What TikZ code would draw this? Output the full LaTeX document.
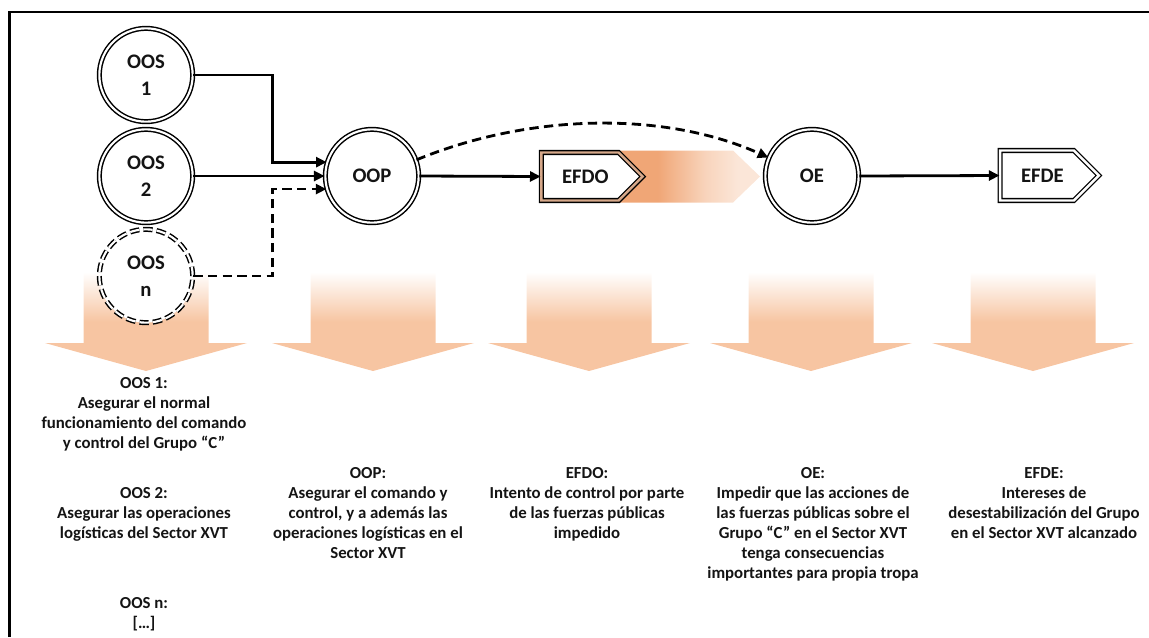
\documentclass[tikz,border=0pt]{standalone}
\usepackage{fontspec}
\setmainfont{Carlito}
\usetikzlibrary{arrows.meta,shapes.symbols}

\definecolor{peach}{RGB}{247,197,162}
\definecolor{efdoA}{RGB}{240,166,118}
\definecolor{efdoB}{RGB}{248,212,188}
\definecolor{efdoC}{RGB}{251,230,216}
\definecolor{ink}{RGB}{20,20,20}
\definecolor{tanline}{RGB}{214,168,138}

% downward block arrows: solid below, fading to white at the top
\pgfdeclareverticalshading{downfade}{100bp}{color(0bp)=(peach); color(50bp)=(peach); color(75bp)=(white); color(100bp)=(white)}
% horizontal glow trailing the EFDO marker
\pgfdeclarehorizontalshading{efdofade}{100bp}{color(0bp)=(efdoA); color(43bp)=(efdoA); color(58bp)=(efdoB); color(68bp)=(efdoC); color(100bp)=(efdoC)}

\tikzset{
  dcirc/.style={circle, draw=black, line width=1.1pt, double=white, double distance=1.6pt,
    fill=white, minimum size=70pt, inner sep=0pt, text=ink, align=center,
    font=\fontsize{15.5}{20}\selectfont\bfseries},
  sigbox/.style={signal, signal to=east, signal pointer angle=90, draw=black, line width=1pt,
    double=white, double distance=1.8pt, fill=white, minimum height=36pt, minimum width=76pt,
    inner sep=0pt, text=ink, font=\fontsize{15.5}{18}\selectfont\bfseries},
  conn/.style={draw=black, line width=2.1pt, -{Triangle[length=8pt,width=7.5pt]}},
  dashconn/.style={conn, dash pattern=on 7pt off 4pt},
  txt/.style={font=\fontsize{12.6}{15}\selectfont\bfseries, text=ink, align=center,
    anchor=north, inner sep=0pt},
  frameline/.style={draw=black, line width=1.6pt},
}

\begin{document}
\begin{tikzpicture}[x=0.75pt, y=-0.75pt]
\useasboundingbox (0,0) rectangle (1149,637);

% frame
\draw[frameline] (9.5,637) -- (9.5,12) -- (1149,12);

% downward block arrows
\foreach \c in {146,373,589,811,1033}{
  \shade[shading=downfade]
    (\c-62.5,272) -- (\c+62.5,272) -- (\c+62.5,343) -- (\c+101,343) -- (\c,371)
    -- (\c-101,343) -- (\c-62.5,343) -- cycle;
}

% glow between EFDO and OE
\shade[shading=efdofade] (600,150.5) -- (733,150.5) -- (760,176.5) -- (733,202.5) -- (600,202.5) -- cycle;

% nodes
\node[dcirc] (oos1) at (146,75) {OOS\\1};
\node[dcirc] (oos2) at (146,176) {OOS\\2};
\node[dcirc, dashed, dash pattern=on 7pt off 3pt] (oosn) at (146,276) {OOS\\n};
\node[dcirc] (oop) at (372,176) {OOP};
\node[sigbox, double=tanline] (efdo) at (580,176.5) {\hspace*{8pt}EFDO};
\node[dcirc] (oe) at (812,176) {OE};
\node[sigbox, minimum height=37.5pt, minimum width=74pt] (efde) at (1037,175.5) {\hspace*{8pt}EFDE};

% connectors
\draw[conn] (oos1.east) -- ++(79,0) |- (oop.163);
\draw[conn] (oos2.east) -- (oop.west);
\draw[dashconn] (oosn.east) -- ++(79,0) |- (oop.196);
\draw[conn] (oop.east) -- (efdo.west);
\draw[dashconn] (oop.20) .. controls (530,113) and (665,111) .. (oe.157);
\draw[conn] (oe.east) -- (efde.west);

% descriptions
\node[txt] (d1) at (144,377) {OOS 1:\\Asegurar el normal\\funcionamiento del comando\\y control del Grupo “C”};
\node[txt] (d2) at (144,487) {OOS 2:\\Asegurar las operaciones\\logísticas del Sector XVT};
\node[txt] (d3) at (144,597) {OOS n:\\{[…]}};
\node[txt] (d4) at (368,467) {OOP:\\Asegurar el comando y\\control, y a además las\\operaciones logísticas en el\\Sector XVT};
\node[txt] (d5) at (587,467) {EFDO:\\Intento de control por parte\\de las fuerzas públicas\\impedido};
\node[txt] (d6) at (813,467) {OE:\\Impedir que las acciones de\\las fuerzas públicas sobre el\\Grupo “C” en el Sector XVT\\tenga consecuencias\\importantes para propia tropa};
\node[txt] (d7) at (1044,467) {EFDE:\\Intereses de\\desestabilización del Grupo\\en el Sector XVT alcanzado};
\end{tikzpicture}
\end{document}
